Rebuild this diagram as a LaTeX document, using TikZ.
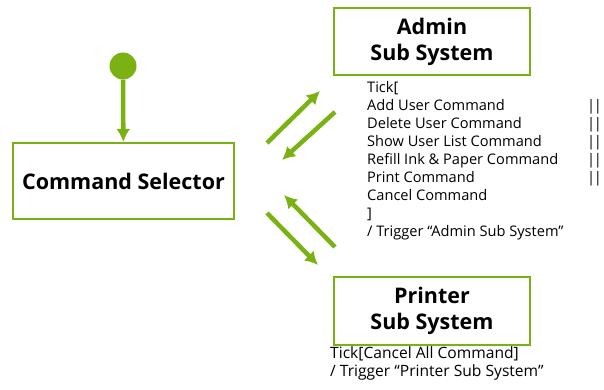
\documentclass[tikz,border=0pt]{standalone}
\usepackage{fontspec}
\setmainfont{Open Sans}
\usepackage{xcolor}
\usetikzlibrary{arrows.meta}
\definecolor{vert}{RGB}{122,178,20}
\newcommand{\barres}{|\kern-1.3pt|}

\begin{document}
\begin{tikzpicture}[x=1pt,y=-1pt]
% Styles
\tikzstyle{fleche}=[-{Latex[length=13pt,width=14pt]},line width=4.5pt,vert]
\tikzstyle{etat}=[draw=vert,line width=2.2pt,fill=white,font=\fontsize{21.5}{26}\selectfont\bfseries,align=center,inner sep=0pt]
\tikzstyle{depart}=[circle,fill=vert,minimum size=27pt,inner sep=0pt]
\tikzstyle{etiquette}=[align=left,inner sep=0pt,font=\fontsize{14.6}{18}\selectfont]
% Cadre
\useasboundingbox (0,0) rectangle (604,390);
% Noeuds
\node[depart] (start) at (123,66) {};
\node[etat,minimum width=221pt,minimum height=76pt] (selector) at (123.5,181) {Command Selector};
\node[etat,minimum width=196pt,minimum height=67pt] (admin) at (432,41.5) {Admin\\Sub System};
\node[etat,minimum width=196pt,minimum height=68pt] (printer) at (432,311) {Printer\\Sub System};
% Etiquettes
\node[etiquette,anchor=north west] (adminlabel) at (367,81) {Tick[\\Add User Command\\Delete User Command\\Show User List Command\\Refill Ink \& Paper Command\\Print Command\\Cancel Command\\]\\/ Trigger “Admin Sub System”};
\node[etiquette,anchor=north east,align=right] (orlabel) at (602,99) {\barres\\\barres\\\barres\\\barres\\\barres};
\node[etiquette,anchor=north west,font=\fontsize{15.6}{18.5}\selectfont] (printerlabel) at (330,346) {Tick[Cancel All Command]\\/ Trigger “Printer Sub System”};
% Extremites des fleches
\coordinate (a1) at (267,143); \coordinate (a2) at (320,91);
\coordinate (b1) at (335,112); \coordinate (b2) at (282,160);
\coordinate (c1) at (267,213); \coordinate (c2) at (318,265);
\coordinate (d1) at (335,247); \coordinate (d2) at (284,195);
% Arcs
\draw[fleche] (start)--(selector);
\draw[fleche] (a1)--(a2);
\draw[fleche] (b1)--(b2);
\draw[fleche] (c1)--(c2);
\draw[fleche] (d1)--(d2);
\end{tikzpicture}
\end{document}
